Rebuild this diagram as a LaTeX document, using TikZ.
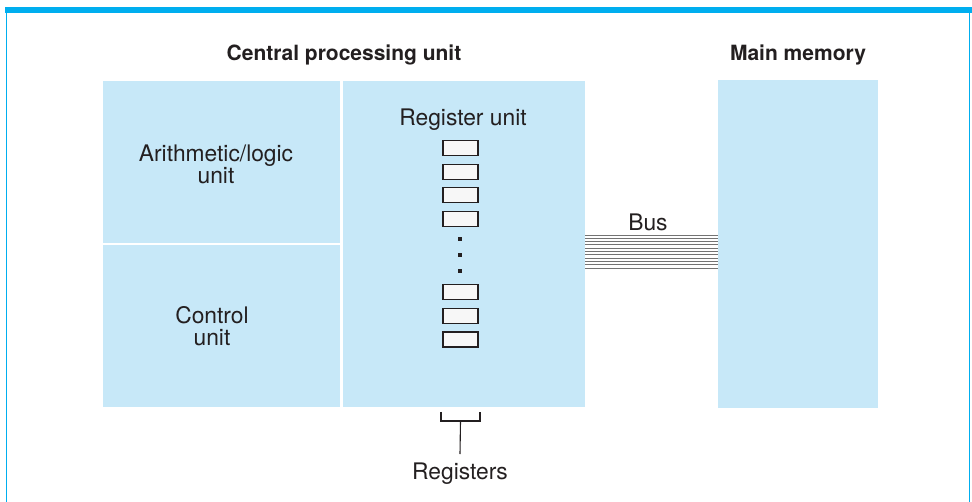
\documentclass[tikz,border=0pt]{standalone}
\usepackage{fontspec}
\setmainfont{TeX Gyre Heros}
\usepackage{tikz}
\usetikzlibrary{positioning,calc}
\definecolor{bandcyan}{RGB}{0,174,239}
\definecolor{unitblue}{RGB}{199,232,248}
\definecolor{inkgray}{RGB}{35,31,32}

\begin{document}
\begin{tikzpicture}[
    x=1pt, y=-1pt,
    every node/.style={text=inkgray, font=\fontsize{22.8}{22}\selectfont},
    unit/.style={fill=unitblue, inner sep=0pt},
    label/.style={align=center, inner sep=0pt},
    title/.style={inner sep=0pt, font=\fontsize{21}{22}\selectfont\bfseries},
    regbox/.style={draw=inkgray, fill=gray!6, line width=1.9pt, minimum width=35pt, minimum height=15pt, inner sep=0pt},
    regdot/.style={fill=inkgray, minimum size=3.2pt, inner sep=0pt},
    busline/.style={draw=black!55, line width=0.9pt}
]
    \useasboundingbox (0,0) rectangle (972,502);
    \fill[bandcyan] (5,7) rectangle (972,13.5);
    \draw[bandcyan, line width=1.5pt] (6.5,13) -- (6.5,502);
    \draw[bandcyan, line width=1.5pt] (969.5,13) -- (969.5,502);

    \node[title] (cputitle) at (344,55) {Central processing unit};
    \node[title] (memtitle) at (798,55) {Main memory};

    \node[unit, minimum width=237pt, minimum height=161.5pt] (alu) at (221.5,162) {};
    \node[unit, minimum width=237pt, minimum height=162pt] (ctrl) at (221.5,326) {};
    \node[unit, minimum width=242pt, minimum height=326pt] (regunit) at (464,244) {};
    \node[unit, minimum width=160pt, minimum height=328pt] (mem) at (798,244) {};

    \node[label] (alutext) at (216,164) {Arithmetic/logic\\unit};
    \node[label] (ctrltext) at (212,326) {Control\\unit};
    \node[label] (regtext) at (463,120) {Register unit};

    \foreach \y/\n in {148/1, 172/2, 195/3, 219/4, 292/5, 316/6, 339.5/7}
        \node[regbox] (reg\n) at (460.5,\y) {};
    \foreach \y/\n in {239/1, 255/2, 271/3}
        \node[regdot] (dot\n) at (460,\y) {};

    \foreach \k in {0,...,10}
        \draw[busline] ([yshift={9pt-3.3pt*\k}]regunit.east) -- ([yshift={9pt-3.3pt*\k}]mem.west);
    \node[label] (bus) at (648,222) {Bus};

    \coordinate (brkl) at (441,412);
    \coordinate (brkr) at (480,412);
    \coordinate (brk) at (460.5,421);
    \node[label, inner sep=0pt] (regs) at (460,474) {Registers};
    \draw[inkgray, line width=1.1pt] (brkl) -- (brkl |- brk) -- (brkr |- brk) -- (brkr);
    \draw[inkgray, line width=1.1pt] (brk) -- ([yshift=9pt]regs.north);
\end{tikzpicture}
\end{document}
